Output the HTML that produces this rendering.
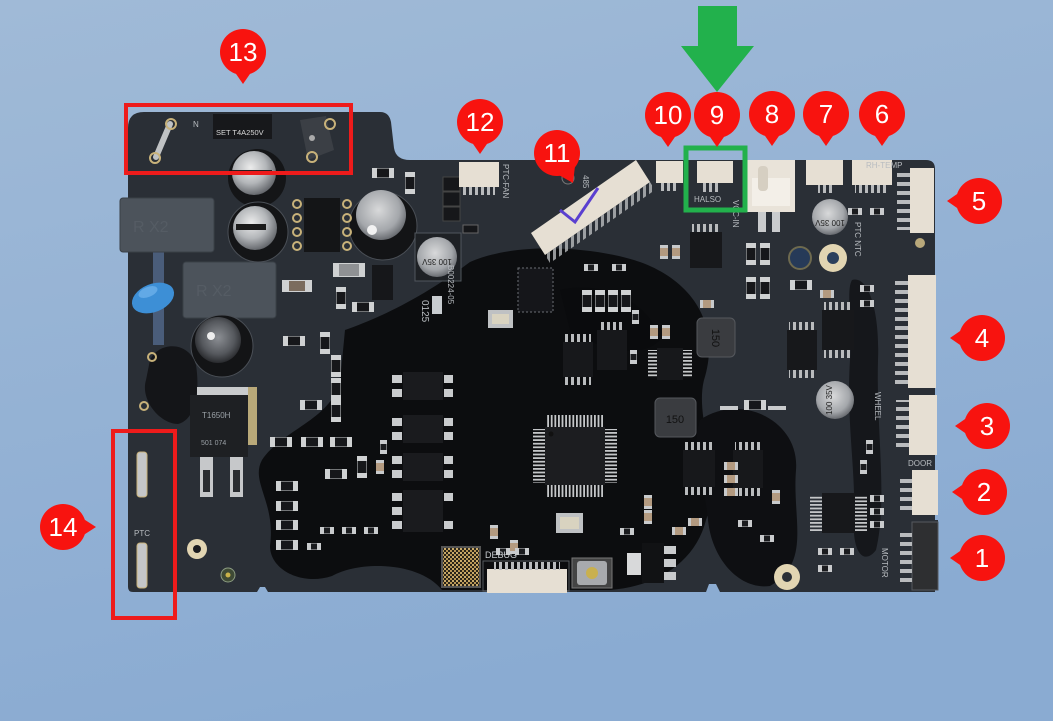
<!DOCTYPE html>
<html><head><meta charset="utf-8"><style>
html,body{margin:0;padding:0;width:1053px;height:721px;overflow:hidden;background:#96b3d4}
svg{display:block}
</style></head><body>
<svg width="1053" height="721" viewBox="0 0 1053 721" xmlns="http://www.w3.org/2000/svg" font-family="Liberation Sans, sans-serif">
<defs>
<linearGradient id="bg" x1="0" y1="0" x2="0.3" y2="1"><stop offset="0" stop-color="#a0bad7"/><stop offset="1" stop-color="#8aabd2"/></linearGradient>
<radialGradient id="silver" cx="0.42" cy="0.38" r="0.65"><stop offset="0" stop-color="#ececec"/><stop offset="0.55" stop-color="#b3b6b9"/><stop offset="1" stop-color="#5f6267"/></radialGradient>
<radialGradient id="gcap" cx="0.45" cy="0.4" r="0.6"><stop offset="0" stop-color="#d8d9da"/><stop offset="0.7" stop-color="#a4a7ab"/><stop offset="1" stop-color="#6a6d72"/></radialGradient>
<radialGradient id="dcap" cx="0.5" cy="0.45" r="0.6"><stop offset="0" stop-color="#8c8f94"/><stop offset="0.6" stop-color="#55585d"/><stop offset="1" stop-color="#1d1e21"/></radialGradient>
<pattern id="ph" width="3.6" height="12" patternUnits="userSpaceOnUse"><rect width="1.8" height="12" fill="#c4c6c8"/></pattern>
<pattern id="pv" width="12" height="3.6" patternUnits="userSpaceOnUse"><rect width="12" height="1.8" fill="#c4c6c8"/></pattern>
<pattern id="cpin" width="14" height="9" patternUnits="userSpaceOnUse"><rect y="2" width="14" height="4" fill="#b9bbbd"/></pattern>
<pattern id="tpin" width="6" height="10" patternUnits="userSpaceOnUse"><rect x="1" width="3" height="10" fill="#b9bbbd"/></pattern>
<pattern id="qr" width="4" height="4" patternUnits="userSpaceOnUse"><rect width="4" height="4" fill="#2a2418"/><rect width="2" height="2" fill="#c9aa6a"/><rect x="2" y="2" width="2" height="2" fill="#b89655"/></pattern>
<g id="rh"><rect width="22" height="10" fill="#cfd1d2"/><rect x="5" y="0.5" width="12" height="9" fill="#16171a"/></g>
<g id="rv"><rect width="10" height="22" fill="#cfd1d2"/><rect x="0.5" y="5" width="9" height="12" fill="#16171a"/></g>
<g id="sh"><rect width="14" height="7" fill="#c9cbcd"/><rect x="4" y="0.5" width="6" height="6" fill="#1a1b1e"/></g>
<g id="sv"><rect width="7" height="14" fill="#c9cbcd"/><rect x="0.5" y="4" width="6" height="6" fill="#1a1b1e"/></g>
<g id="ct"><rect width="8" height="14" fill="#c8cacc"/><rect y="3" width="8" height="8" fill="#b39a80"/></g>
<g id="cth"><rect width="14" height="8" fill="#c8cacc"/><rect x="3" width="8" height="8" fill="#b39a80"/></g>
</defs>

<rect width="1053" height="721" fill="url(#bg)"/>

<!-- PCB -->
<path d="M128,128 Q128,112 144,112 L380,112 Q389,112 391,122 L394,148 Q396,160 410,160 L926,160 Q935,160 935,169 L935,520 L938,520 L938,586 L935,586 L935,592 L720,592 L716,584 L709,584 L706,592 L268,592 L265,587 L260,587 L257,592 L133,592 Q128,592 128,587 Z" fill="#2a2f36"/>

<!-- black glossy blobs -->
<path d="M345,330 C380,318 425,296 470,262 C520,240 600,248 640,262 C690,280 722,322 704,380 C694,420 724,470 706,520 C696,560 660,586 610,590 L442,590 C420,562 360,560 332,576 C302,586 270,570 270,546 C276,502 250,482 262,460 C282,430 330,420 340,382 Z" fill="#0c0d0f"/>
<path d="M700,420 C740,392 800,420 796,470 C792,520 812,562 770,586 C740,590 712,560 708,520 C704,480 690,450 700,420 Z" fill="#0e0f12"/>
<path d="M852,280 C868,275 880,310 878,360 C876,430 888,500 876,550 C864,566 852,552 854,520 C856,470 846,420 850,360 C852,320 846,290 852,280 Z" fill="#15171b"/>
<path d="M560,290 C600,280 650,300 660,340 C640,360 600,350 570,330 Z" fill="#0a0b0d"/>

<!-- left blue trace -->
<rect x="153" y="250" width="11" height="95" fill="#4a5d7a"/>

<!-- X caps -->
<rect x="120" y="198" width="94" height="54" rx="3" fill="#4c535b" stroke="#3a4047"/>
<rect x="183" y="262" width="93" height="56" rx="3" fill="#4c535b" stroke="#3a4047"/>
<text x="133" y="232" font-size="16" fill="#555c64">R  X2</text>
<text x="196" y="296" font-size="16" fill="#555c64">R  X2</text>

<!-- blue ceramic cap -->
<ellipse cx="153" cy="298" rx="22" ry="14" transform="rotate(-22 153 298)" fill="#3d8fd6"/>
<ellipse cx="148" cy="292" rx="10" ry="5" transform="rotate(-22 148 292)" fill="#62a9e6"/>

<!-- top-left power parts -->
<line x1="170" y1="124" x2="156" y2="157" stroke="#bfc2c4" stroke-width="6" stroke-linecap="round"/>
<circle cx="171" cy="124" r="5" fill="none" stroke="#c8b27a" stroke-width="2"/>
<circle cx="155" cy="158" r="5" fill="none" stroke="#c8b27a" stroke-width="2"/>
<text x="193" y="127" font-size="8" fill="#b8bcc0">N</text>
<rect x="213" y="114" width="59" height="25" fill="#17181b"/>
<text x="216" y="135" font-size="7.5" fill="#d8d8d8">SET T4A250V</text>
<polygon points="300,120 326,116 334,150 308,160" fill="#3b3f45"/>
<circle cx="312" cy="138" r="3" fill="#aaa"/>
<circle cx="330" cy="124" r="5" fill="none" stroke="#c8b27a" stroke-width="2"/>
<circle cx="312" cy="157" r="5" fill="none" stroke="#c8b27a" stroke-width="2"/>

<!-- electrolytic caps -->
<circle cx="257" cy="178" r="29" fill="#141517"/>
<circle cx="254" cy="173" r="22" fill="url(#silver)"/>
<rect x="232" y="170" width="40" height="5" fill="#222"/>
<circle cx="258" cy="232" r="30" fill="#141517" stroke="#4a4f56" stroke-width="1"/>
<circle cx="255" cy="228" r="22" fill="url(#silver)"/>
<rect x="236" y="224" width="30" height="6" fill="#1a1a1a"/>
<circle cx="383" cy="226" r="34" fill="#131416" stroke="#4a4f56"/>
<circle cx="381" cy="215" r="25" fill="url(#gcap)"/>
<circle cx="372" cy="230" r="5" fill="#f2f2f2"/>
<circle cx="222" cy="346" r="31" fill="#131416" stroke="#4a4f56"/>
<circle cx="218" cy="340" r="23" fill="url(#dcap)"/>
<circle cx="211" cy="336" r="4" fill="#eee"/>
<rect x="415" y="233" width="46" height="48" fill="#1e2125" stroke="#50565d"/>
<circle cx="437" cy="257" r="20" fill="url(#gcap)"/>
<text x="437" y="255" font-size="8" fill="#222" text-anchor="middle" transform="rotate(180 437 257)">100  35V</text>

<!-- DIP8 -->
<rect x="304" y="198" width="36" height="54" fill="#141517"/>
<g fill="none" stroke="#c8b27a" stroke-width="2">
<circle cx="297" cy="204" r="4"/><circle cx="297" cy="218" r="4"/><circle cx="297" cy="232" r="4"/><circle cx="297" cy="246" r="4"/>
<circle cx="347" cy="204" r="4"/><circle cx="347" cy="218" r="4"/><circle cx="347" cy="232" r="4"/><circle cx="347" cy="246" r="4"/>
</g>

<!-- varistor -->
<path d="M150,360 C160,340 190,342 196,365 C200,390 196,420 178,424 C160,424 140,400 146,380 Z" fill="#141518"/>
<circle cx="152" cy="357" r="4" fill="none" stroke="#c8b27a" stroke-width="2"/>
<circle cx="144" cy="406" r="4" fill="none" stroke="#c8b27a" stroke-width="2"/>

<!-- TO-252 -->
<rect x="197" y="387" width="60" height="12" fill="#c9cbcc"/>
<rect x="190" y="395" width="58" height="62" fill="#1e2023"/>
<rect x="248" y="387" width="9" height="58" fill="#b9a979"/>
<text x="202" y="418" font-size="8" fill="#9aa0a6">T1650H</text>
<text x="201" y="445" font-size="7" fill="#9aa0a6">501   074</text>
<rect x="200" y="457" width="13" height="40" fill="#c6c8ca"/>
<rect x="230" y="457" width="13" height="40" fill="#c6c8ca"/>
<rect x="203" y="470" width="7" height="22" fill="#2a2d31"/>
<rect x="233" y="470" width="7" height="22" fill="#2a2d31"/>

<!-- PTC pins -->
<rect x="137" y="452" width="10" height="45" rx="3" fill="#c4c6c8" stroke="#c8b27a"/>
<rect x="137" y="543" width="10" height="45" rx="3" fill="#c4c6c8" stroke="#c8b27a"/>
<text x="134" y="536" font-size="8" fill="#b8bcc0">PTC</text>

<!-- mounting holes -->
<circle cx="197" cy="549" r="10" fill="#e2d5b2"/><circle cx="197" cy="549" r="4" fill="#1b1c1f"/>
<circle cx="228" cy="575" r="7" fill="#3e4a35" stroke="#8c9c82"/><circle cx="228" cy="575" r="2.5" fill="#c9b24a"/>
<circle cx="787" cy="577" r="13" fill="#e2d5b2"/><circle cx="787" cy="577" r="5" fill="#2b3037"/>
<circle cx="833" cy="258" r="14" fill="#e2d5b2"/><circle cx="833" cy="258" r="6" fill="#2b3f5c"/>
<circle cx="800" cy="258" r="11" fill="#263a58" stroke="#6e6a4f" stroke-width="2"/>
<circle cx="920" cy="243" r="5" fill="#b8a87a"/>

<!-- small parts left-center -->
<rect x="333" y="263" width="32" height="14" fill="#cfd1d2"/><rect x="339" y="264" width="20" height="12" fill="#8f9194"/>
<rect x="282" y="280" width="30" height="12" fill="#cfd1d2"/><rect x="289" y="281" width="16" height="10" fill="#7b6c5e"/>
<rect x="372" y="265" width="21" height="35" fill="#16171a"/>
<use href="#rv" x="336" y="287"/>
<use href="#rh" x="352" y="302"/>
<use href="#rv" x="405" y="172"/>
<use href="#rh" x="372" y="168"/>
<rect x="443" y="177" width="17" height="14" fill="#16171a" stroke="#444"/>
<rect x="443" y="192" width="17" height="14" fill="#16171a" stroke="#444"/>
<rect x="443" y="207" width="17" height="14" fill="#16171a" stroke="#444"/>
<rect x="463" y="225" width="15" height="8" fill="#16171a" stroke="#666"/>
<use href="#rh" x="283" y="336"/>
<use href="#rv" x="320" y="332"/>
<use href="#rv" x="331" y="355"/><use href="#rv" x="331" y="378"/><use href="#rv" x="331" y="400"/>
<use href="#rh" x="300" y="400"/>
<use href="#rh" x="270" y="437"/><use href="#rh" x="301" y="437"/><use href="#rh" x="330" y="437"/>
<use href="#rh" x="325" y="469"/>
<use href="#rv" x="357" y="456"/>
<use href="#ct" x="376" y="460"/>
<use href="#rh" x="276" y="481"/><use href="#rh" x="276" y="501"/><use href="#rh" x="276" y="520"/><use href="#rh" x="276" y="540"/>
<use href="#sh" x="320" y="527"/><use href="#sh" x="342" y="527"/><use href="#sh" x="364" y="527"/>
<use href="#sh" x="307" y="543"/>
<use href="#sv" x="380" y="440"/>

<!-- optocouplers -->
<g>
<rect x="403" y="372" width="40" height="28" fill="#1a1b1e"/>
<rect x="403" y="415" width="40" height="28" fill="#1a1b1e"/>
<rect x="403" y="453" width="40" height="28" fill="#1a1b1e"/>
<rect x="403" y="490" width="40" height="42" fill="#1a1b1e"/>
<g fill="#c9cbcd">
<rect x="392" y="375" width="10" height="8"/><rect x="392" y="389" width="10" height="8"/><rect x="444" y="375" width="9" height="8"/><rect x="444" y="389" width="9" height="8"/>
<rect x="392" y="418" width="10" height="8"/><rect x="392" y="432" width="10" height="8"/><rect x="444" y="418" width="9" height="8"/><rect x="444" y="432" width="9" height="8"/>
<rect x="392" y="456" width="10" height="8"/><rect x="392" y="470" width="10" height="8"/><rect x="444" y="456" width="9" height="8"/><rect x="444" y="470" width="9" height="8"/>
<rect x="392" y="493" width="10" height="8"/><rect x="392" y="507" width="10" height="8"/><rect x="392" y="521" width="10" height="8"/><rect x="444" y="493" width="9" height="8"/><rect x="444" y="521" width="9" height="8"/>
</g>
</g>

<!-- 485 connector (rotated) -->
<polygon points="531,233 636,160 650,182 545,255" fill="#e6dfd3"/>
<polyline points="560,210 575,222 598,188" fill="none" stroke="#5a3fd0" stroke-width="3"/>
<polygon points="545,255 650,182 655,190 550,263" fill="url(#tpin)" opacity="0.8"/>
<text x="583" y="175" font-size="8" fill="#b8bcc0" transform="rotate(90 583 175)">485</text>
<circle cx="568" cy="178" r="6" fill="none" stroke="#777" stroke-width="1"/>

<!-- top connectors -->
<rect x="459" y="162" width="40" height="25" fill="#e6dfd3"/>
<rect x="463" y="187" width="32" height="8" fill="url(#tpin)"/>
<text x="503" y="164" font-size="8" fill="#b8bcc0" transform="rotate(90 503 164)">PTC-FAN</text>
<rect x="656" y="161" width="27" height="22" fill="#e6dfd3"/>
<rect x="660" y="183" width="18" height="8" fill="url(#tpin)"/>
<rect x="697" y="161" width="36" height="22" fill="#e6dfd3"/>
<rect x="703" y="183" width="18" height="9" fill="url(#tpin)"/>
<text x="694" y="202" font-size="8" fill="#b8bcc0">HALSO</text>
<rect x="747" y="160" width="48" height="52" fill="#e9e3d9"/>
<rect x="752" y="178" width="38" height="28" fill="#f3efe8"/>
<rect x="758" y="166" width="10" height="25" rx="4" fill="#d6cfc2"/>
<rect x="758" y="212" width="8" height="20" fill="#c9cbcd"/><rect x="772" y="212" width="8" height="20" fill="#c9cbcd"/>
<text x="733" y="200" font-size="8" fill="#b8bcc0" transform="rotate(90 733 200)">VCC-IN</text>
<rect x="806" y="160" width="37" height="25" fill="#e6dfd3"/>
<rect x="818" y="185" width="14" height="8" fill="url(#tpin)"/>
<rect x="852" y="160" width="40" height="25" fill="#e6dfd3"/>
<rect x="855" y="185" width="32" height="8" fill="url(#tpin)"/>
<text x="866" y="168" font-size="8" fill="#b8bcc0">RH-TEMP</text>
<circle cx="830" cy="217" r="18" fill="url(#gcap)"/>
<text x="830" y="214" font-size="8" fill="#222" text-anchor="middle" transform="rotate(180 830 217)">100 35V</text>
<text x="855" y="222" font-size="8" fill="#b8bcc0" transform="rotate(90 855 222)">PTC NTC</text>

<!-- right connectors -->
<rect x="910" y="168" width="24" height="65" fill="#e6dfd3"/>
<rect x="897" y="172" width="13" height="58" fill="url(#cpin)"/>
<rect x="908" y="275" width="28" height="113" fill="#e6dfd3"/>
<rect x="895" y="280" width="13" height="105" fill="url(#cpin)"/>
<rect x="909" y="395" width="28" height="60" fill="#e6dfd3"/>
<rect x="896" y="400" width="13" height="52" fill="url(#cpin)"/>
<text x="875" y="392" font-size="8" fill="#b8bcc0" transform="rotate(90 875 392)">WHEEL</text>
<text x="908" y="466" font-size="8" fill="#b8bcc0">DOOR</text>
<rect x="912" y="470" width="26" height="45" fill="#e6dfd3"/>
<rect x="900" y="475" width="12" height="36" fill="url(#cpin)"/>
<rect x="912" y="522" width="26" height="68" fill="#2e2f31" stroke="#55595e"/>
<rect x="900" y="528" width="12" height="55" fill="url(#cpin)"/>
<text x="882" y="548" font-size="8" fill="#b8bcc0" transform="rotate(90 882 548)">MOTOR</text>

<!-- main MCU -->
<rect x="547" y="415" width="56" height="12" fill="url(#ph)"/>
<rect x="547" y="485" width="56" height="12" fill="url(#ph)"/>
<rect x="533" y="429" width="12" height="54" fill="url(#pv)"/>
<rect x="605" y="429" width="12" height="54" fill="url(#pv)"/>
<rect x="545" y="427" width="60" height="58" fill="#1c1d20"/>
<circle cx="551" cy="434" r="2.5" fill="#111"/>

<!-- inductors -->
<rect x="655" y="398" width="41" height="39" rx="5" fill="#3a3c40" stroke="#55585d"/>
<text x="675" y="423" font-size="11" fill="#111" text-anchor="middle">150</text>
<rect x="697" y="318" width="38" height="39" rx="5" fill="#3a3c40" stroke="#55585d"/>
<text x="716" y="342" font-size="11" fill="#111" text-anchor="middle" transform="rotate(90 716 338)">150</text>
<circle cx="835" cy="400" r="19" fill="url(#gcap)"/>
<text x="835" y="397" font-size="8" fill="#222" text-anchor="middle" transform="rotate(-90 835 400)">100 35V</text>

<!-- middle ICs -->
<g>
<rect x="563" y="342" width="30" height="35" fill="#17181b"/>
<rect x="565" y="334" width="26" height="8" fill="url(#tpin)"/><rect x="565" y="377" width="26" height="8" fill="url(#tpin)"/>
<rect x="597" y="330" width="30" height="40" fill="#17181b"/>
<rect x="599" y="322" width="26" height="8" fill="url(#tpin)"/>
<rect x="657" y="348" width="26" height="32" fill="#17181b"/>
<rect x="648" y="350" width="9" height="28" fill="url(#pv)"/><rect x="683" y="350" width="9" height="28" fill="url(#pv)"/>
<rect x="683" y="450" width="32" height="37" fill="#17181b"/>
<rect x="685" y="442" width="28" height="8" fill="url(#tpin)"/><rect x="685" y="487" width="28" height="8" fill="url(#tpin)"/>
<rect x="733" y="450" width="30" height="38" fill="#17181b"/>
<rect x="735" y="442" width="26" height="8" fill="url(#tpin)"/><rect x="735" y="488" width="26" height="8" fill="url(#tpin)"/>
<rect x="822" y="493" width="33" height="40" fill="#17181b"/>
<rect x="810" y="495" width="12" height="36" fill="url(#pv)"/><rect x="855" y="495" width="12" height="36" fill="url(#pv)"/>
<rect x="787" y="330" width="30" height="40" fill="#17181b"/>
<rect x="789" y="322" width="26" height="8" fill="url(#tpin)"/><rect x="789" y="370" width="26" height="8" fill="url(#tpin)"/>
<rect x="822" y="310" width="32" height="40" fill="#17181b"/>
<rect x="824" y="302" width="28" height="8" fill="url(#tpin)"/><rect x="824" y="350" width="28" height="8" fill="url(#tpin)"/>
<rect x="690" y="232" width="32" height="36" fill="#17181b"/>
<rect x="692" y="224" width="28" height="8" fill="url(#tpin)"/>
<rect x="642" y="543" width="22" height="40" fill="#111214"/>
<rect x="664" y="546" width="12" height="8" fill="#c9cbcd"/><rect x="664" y="559" width="12" height="8" fill="#c9cbcd"/><rect x="664" y="572" width="12" height="8" fill="#c9cbcd"/>
<rect x="627" y="553" width="14" height="22" fill="#d8d9da"/>
<rect x="518" y="268" width="35" height="44" fill="#15161a" stroke="#6b6f74" stroke-dasharray="2 2"/>
<rect x="488" y="310" width="25" height="18" fill="#bfc1c3"/><rect x="492" y="314" width="17" height="10" fill="#d9d3c0"/>
<rect x="556" y="513" width="27" height="20" fill="#bfc1c3"/><rect x="560" y="517" width="19" height="12" fill="#d9d3c0"/>
</g>
<use href="#rv" x="582" y="290"/><use href="#rv" x="595" y="290"/><use href="#rv" x="608" y="290"/><use href="#rv" x="621" y="290"/>
<use href="#sh" x="584" y="264"/><use href="#sh" x="612" y="264"/>
<use href="#ct" x="660" y="245"/><use href="#ct" x="672" y="245"/>
<use href="#ct" x="644" y="495"/><use href="#ct" x="644" y="510"/>
<use href="#cth" x="724" y="462"/><use href="#cth" x="724" y="475"/><use href="#cth" x="724" y="488"/>
<use href="#ct" x="650" y="325"/><use href="#ct" x="662" y="325"/>
<use href="#rh" x="744" y="400"/>
<use href="#cth" x="672" y="527"/><use href="#cth" x="688" y="518"/>
<use href="#sh" x="738" y="520"/><use href="#sh" x="760" y="535"/>
<use href="#sv" x="630" y="350"/>
<use href="#ct" x="772" y="490"/>
<use href="#rv" x="746" y="243"/><use href="#rv" x="760" y="243"/>
<use href="#rv" x="746" y="277"/><use href="#rv" x="760" y="277"/>
<use href="#rh" x="790" y="280"/>
<use href="#cth" x="820" y="290"/>
<use href="#sh" x="860" y="285"/><use href="#sh" x="860" y="300"/>
<use href="#sh" x="870" y="495"/><use href="#sh" x="870" y="508"/><use href="#sh" x="870" y="521"/>
<use href="#sv" x="866" y="440"/><use href="#sv" x="860" y="460"/>
<use href="#sh" x="848" y="208"/><use href="#sh" x="870" y="208"/>
<use href="#sh" x="818" y="548"/><use href="#sh" x="840" y="548"/><use href="#sh" x="818" y="565"/>
<use href="#ct" x="490" y="525"/><use href="#ct" x="510" y="540"/>
<use href="#sh" x="620" y="528"/>
<use href="#sh" x="496" y="548"/><use href="#sh" x="515" y="548"/>
<use href="#sv" x="632" y="310"/>
<use href="#cth" x="700" y="300"/>
<rect x="720" y="406" width="18" height="4" fill="#c9cbcd"/><rect x="768" y="406" width="18" height="4" fill="#c9cbcd"/>

<!-- debug area -->
<rect x="442" y="547" width="38" height="40" fill="url(#qr)" stroke="#555" stroke-width="2"/>
<text x="485" y="558" font-size="9" fill="#c8ccd0">DEBUG</text>
<rect x="483" y="561" width="86" height="30" fill="none" stroke="#55595e"/>
<rect x="487" y="569" width="80" height="24" fill="#e6dfd3"/>
<rect x="494" y="562" width="66" height="8" fill="url(#tpin)"/>
<rect x="572" y="558" width="40" height="30" fill="#444" stroke="#777"/>
<rect x="577" y="561" width="30" height="24" rx="3" fill="#a8aaad"/>
<circle cx="592" cy="573" r="6" fill="#c9b04e"/>

<!-- board labels -->
<text x="448" y="265" font-size="8" fill="#b8bcc0" transform="rotate(90 448 265)">B00224-05</text>
<text x="422" y="300" font-size="10" fill="#b8bcc0" transform="rotate(90 422 300)">0125</text>
<rect x="432" y="296" width="10" height="18" fill="#c8ccd0"/>

<!-- RED BOXES -->
<rect x="126" y="105" width="225" height="68" fill="none" stroke="#ee1b1b" stroke-width="4"/>
<rect x="113" y="431" width="62" height="187" fill="none" stroke="#ee1b1b" stroke-width="4"/>

<!-- GREEN -->
<rect x="686" y="148" width="59" height="62" fill="none" stroke="#22b14c" stroke-width="5"/>
<polygon points="698,6 737,6 737,46 754,46 717,92 681,46 698,46" fill="#22b14c"/>

<!-- MARKERS -->
<g fill="#f8130f">
<circle cx="243" cy="52" r="23"/><polygon points="234,71 252,71 243,84"/>
<circle cx="480" cy="122" r="23"/><polygon points="471,141 489,141 480,154"/>
<circle cx="557" cy="153" r="23"/><polygon points="557,174 575,166 573,183"/>
<circle cx="668" cy="115" r="23"/><polygon points="659,134 677,134 668,147"/>
<circle cx="717" cy="115" r="23"/><polygon points="708,134 726,134 717,147"/>
<circle cx="772" cy="114" r="23"/><polygon points="763,133 781,133 772,146"/>
<circle cx="826" cy="114" r="23"/><polygon points="817,133 835,133 826,146"/>
<circle cx="882" cy="114" r="23"/><polygon points="873,133 891,133 882,146"/>
<circle cx="979" cy="201" r="23"/><polygon points="960,192 960,210 947,201"/>
<circle cx="982" cy="338" r="23"/><polygon points="963,329 963,347 950,338"/>
<circle cx="987" cy="426" r="23"/><polygon points="968,417 968,435 955,426"/>
<circle cx="984" cy="492" r="23"/><polygon points="965,483 965,501 952,492"/>
<circle cx="982" cy="558" r="23"/><polygon points="963,549 963,567 950,558"/>
<circle cx="63" cy="527" r="23"/><polygon points="82,518 82,536 96,527"/>
</g>
<g fill="#ffffff" font-size="26" text-anchor="middle">
<text x="243" y="61">13</text>
<text x="480" y="131">12</text>
<text x="557" y="162">11</text>
<text x="668" y="124">10</text>
<text x="717" y="124">9</text>
<text x="772" y="123">8</text>
<text x="826" y="123">7</text>
<text x="882" y="123">6</text>
<text x="979" y="210">5</text>
<text x="982" y="347">4</text>
<text x="987" y="435">3</text>
<text x="984" y="501">2</text>
<text x="982" y="567">1</text>
<text x="63" y="536">14</text>
</g>
</svg>
</body></html>
